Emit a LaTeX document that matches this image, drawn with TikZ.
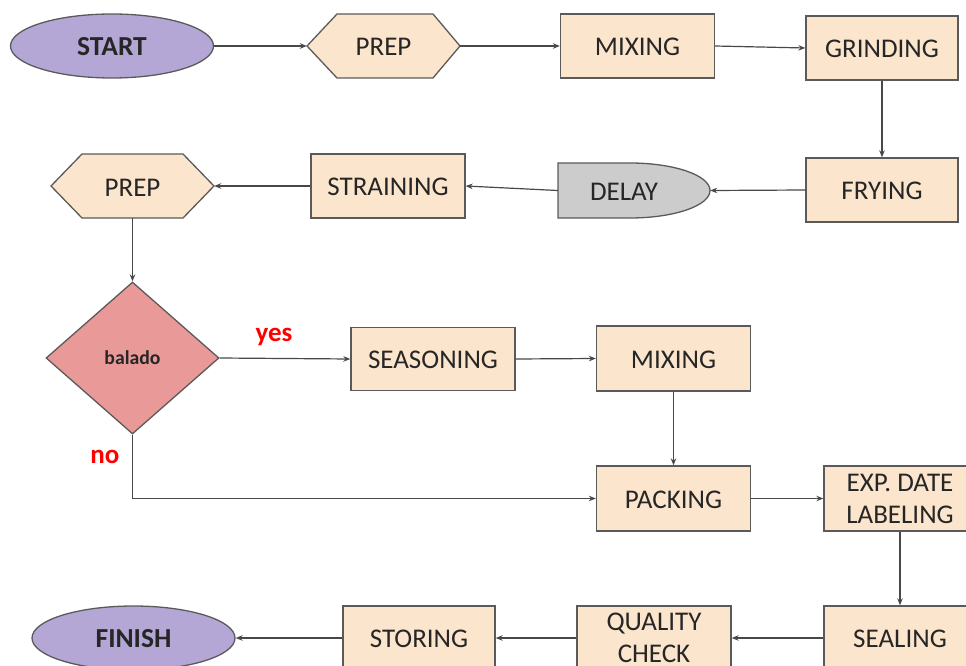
\documentclass[tikz,border=0pt]{standalone}
\usepackage{fontspec}
\setmainfont{Carlito}
\usetikzlibrary{arrows.meta,shapes.geometric}
\definecolor{peach}{HTML}{FCE5CD}
\definecolor{lav}{HTML}{B4A7D6}
\definecolor{rosy}{HTML}{EA9999}
\definecolor{lgray}{HTML}{CCCCCC}
\definecolor{edge}{HTML}{5A5A5A}
\definecolor{txt}{HTML}{262626}
\definecolor{lbl}{HTML}{FF0000}
\begin{document}
\begin{tikzpicture}[x=1pt,y=-1pt,
  txtfont/.style={font=\fontsize{27}{32}\selectfont, text=txt, align=center},
  oneline/.style={text height=20pt},
  box/.style={draw=edge, fill=peach, line width=1.3pt, minimum width=154pt, minimum height=64pt, inner sep=0pt, txtfont},
  ghost/.style={inner sep=0pt, txtfont, oneline},
  shapeline/.style={draw=edge, line width=1.3pt},
  terminal/.style={ellipse, draw=edge, fill=lav, line width=1.3pt, inner sep=0pt, minimum width=203pt, minimum height=64pt, font=\bfseries\fontsize{27.5}{32}\selectfont, text=txt, text height=20pt},
  decision/.style={diamond, draw=edge, fill=rosy, line width=1.3pt, inner sep=0pt, minimum width=173pt, minimum height=152pt, font=\bfseries\fontsize{19.7}{24}\selectfont, text=txt},
  arr/.style={draw=edge!80!black, line width=1.2pt, -{Stealth[length=7pt,width=5.5pt]}},
  lab/.style={text=lbl, font=\bfseries\fontsize{27}{30}\selectfont, inner sep=0pt}]
\useasboundingbox (0,0) rectangle (966,666);
\clip (0,0) rectangle (966,666);

% hexagon shapes
\path[shapeline, fill=peach] (307,46) -- (337,14) -- (433,14) -- (460,46) -- (433,78) -- (337,78) -- cycle;
\path[shapeline, fill=peach] (51,186) -- (82,154) -- (183,154) -- (214,186) -- (183,218) -- (82,218) -- cycle;
% delay shape
\path[shapeline, fill=lgray] (558,163) -- (630,163) .. controls (674,163) and (710,175.3) .. (710,190.5) .. controls (710,205.7) and (674,218) .. (630,218) -- (558,218) -- cycle;

% row 1
\node[terminal] (start) at (112,46) {START};
\node[ghost, minimum width=153pt, minimum height=64pt] (prep1) at (383.5,46) {PREP};
\node[box, oneline] (mix1) at (637.5,46) {MIXING};
\node[box, oneline, minimum width=152pt] (grind) at (882,48) {GRINDING};
% row 2
\node[box, oneline, minimum width=152pt] (fry) at (882,190) {FRYING};
\node[ghost, minimum width=152pt, minimum height=55pt] (delay) at (634,190.5) {\hspace*{-20pt}DELAY};
\node[box, oneline] (strain) at (388,186) {STRAINING};
\node[ghost, minimum width=163pt, minimum height=64pt] (prep2) at (132.5,186) {PREP};
% row 3
\node[decision] (dia) at (132.5,358) {balado};
\node[box, oneline, minimum width=164pt, minimum height=63pt] (season) at (433,359) {SEASONING};
\node[box, oneline, minimum height=65pt] (mix2) at (673.5,358.5) {MIXING};
% row 4
\node[box, oneline, minimum height=65pt] (pack) at (673.5,498.5) {PACKING};
\node[box, minimum width=152pt, minimum height=65pt] (exp) at (900,498.5) {EXP. DATE\\LABELING};
% row 5
\node[box, oneline, minimum width=152pt] (seal) at (900,638) {SEALING};
\node[box] (qual) at (654,638) {QUALITY\\CHECK};
\node[box, oneline, minimum width=152pt] (stor) at (419,638) {STORING};
\node[terminal] (finish) at (133.5,638) {FINISH};

% labels
\node[lab] (yes) at (274,337) {yes};
\node[lab] (no) at (105,457) {no};

% connectors
\draw[arr] (start.east) -- (prep1.west);
\draw[arr] (prep1.east) -- (mix1.west);
\draw[arr] (mix1.east) -- (grind.west);
\draw[arr] (grind.south) -- (fry.north);
\draw[arr] (fry.west) -- (delay.east);
\draw[arr] (delay.west) -- (strain.east);
\draw[arr] (strain.west) -- (prep2.east);
\draw[arr] (prep2.south) -- (dia.north);
\draw[arr] (dia.east) -- (season.west);
\draw[arr] (season.east) -- (mix2.west);
\draw[arr] (mix2.south) -- (pack.north);
\draw[arr] (dia.south) |- (pack.west);
\draw[arr] (pack.east) -- (exp.west);
\draw[arr] (exp.south) -- (seal.north);
\draw[arr] (seal.west) -- (qual.east);
\draw[arr] (qual.west) -- (stor.east);
\draw[arr] (stor.west) -- (finish.east);
\end{tikzpicture}
\end{document}
